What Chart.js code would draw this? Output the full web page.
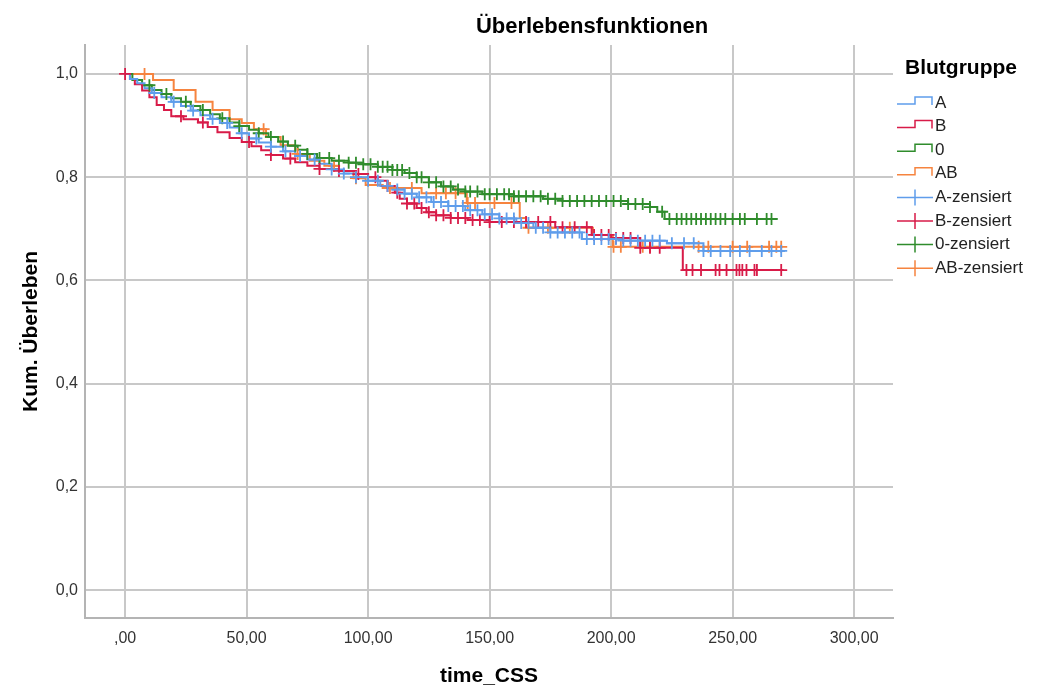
<!DOCTYPE html>
<html>
<head>
<meta charset="utf-8">
<script src="https://cdn.jsdelivr.net/npm/chart.js@4.4.1/dist/chart.umd.min.js"></script>
<style>
  html, body { margin: 0; padding: 0; background: #fff; }
  #wrap { width: 1037px; height: 689px; }
</style>
</head>
<body>
<div id="wrap"><canvas id="kmChart" width="1037" height="689"></canvas></div>
<script>
// Blood groups and their colours (SPSS default palette)
const groups = ['A', 'B', '0', 'AB'];
const colors = ['#5f9deb', '#d81b48', '#2f8c2c', '#f6843f'];

// Kaplan-Meier steps: time of event and survival after it
const timeA = [0, 2, 5, 8, 11, 15, 19, 23, 27, 31, 35, 39, 43, 47, 51, 55, 60, 65, 70, 75, 80, 85, 90, 95, 100, 105, 110, 115, 120, 126, 133, 140, 147, 154, 161, 168, 175, 188, 205, 223, 238, 271.5];
const survA = [1.0, 0.99, 0.982, 0.972, 0.963, 0.955, 0.946, 0.938, 0.929, 0.92, 0.913, 0.905, 0.896, 0.885, 0.875, 0.867, 0.859, 0.85, 0.841, 0.834, 0.826, 0.815, 0.807, 0.8, 0.793, 0.783, 0.776, 0.768, 0.761, 0.752, 0.744, 0.736, 0.728, 0.72, 0.711, 0.702, 0.693, 0.68, 0.677, 0.672, 0.657, 0.657];

const timeB = [0, 2, 4, 7, 10, 13, 16, 19, 24, 30, 34, 38, 43, 48, 52, 56, 60, 65, 70, 75, 80, 88, 95, 100, 104, 108, 111, 113, 116, 120, 124, 128, 134, 141, 150, 177, 192, 200, 212, 229.5, 271];
const survB = [1.0, 0.99, 0.98, 0.968, 0.955, 0.94, 0.93, 0.918, 0.912, 0.906, 0.897, 0.887, 0.876, 0.868, 0.86, 0.852, 0.843, 0.836, 0.829, 0.822, 0.816, 0.812, 0.806, 0.8, 0.793, 0.783, 0.77, 0.758, 0.749, 0.74, 0.732, 0.726, 0.721, 0.717, 0.713, 0.703, 0.688, 0.682, 0.663, 0.62, 0.62];

const time0 = [0, 3, 7, 11, 15, 19, 23, 27, 31, 35, 39, 43, 47, 51, 55, 59, 63, 67, 71, 75, 79, 85, 92, 98, 104, 110, 115, 120, 125, 130, 135, 140, 147, 160, 172, 180, 207, 216, 219, 222, 268.5];
const surv0 = [1.0, 0.988, 0.978, 0.969, 0.961, 0.953, 0.946, 0.938, 0.93, 0.922, 0.914, 0.906, 0.899, 0.892, 0.885, 0.878, 0.869, 0.861, 0.853, 0.845, 0.837, 0.832, 0.828, 0.825, 0.82, 0.814, 0.808, 0.8, 0.79, 0.782, 0.776, 0.772, 0.767, 0.763, 0.758, 0.754, 0.748, 0.742, 0.733, 0.719, 0.719];

const timeAB = [0, 11.5, 20, 29, 36, 43, 48, 53, 58, 64, 70, 76, 82, 88, 94, 99, 106, 122, 140.6, 162.4, 165, 192.5, 200.7, 270.5];
const survAB = [1.0, 0.988, 0.969, 0.946, 0.93, 0.912, 0.905, 0.893, 0.878, 0.862, 0.845, 0.832, 0.822, 0.812, 0.798, 0.785, 0.779, 0.769, 0.75, 0.721, 0.702, 0.688, 0.665, 0.665];

// censored observation times
const censA = [12, 20, 28, 36, 42, 48, 54, 60, 66, 72, 78, 85, 90, 95, 100, 104, 108, 112, 115, 118, 121, 124, 127, 130, 133, 136, 139, 142, 145, 148, 151, 154, 157, 160, 163, 166, 169, 172, 175, 178, 181, 184, 187, 190, 193, 196, 199, 202, 205, 208, 211, 214, 217, 220, 225, 230, 234, 238, 241, 245, 249, 253, 257, 262, 266, 270];
const censB = [0, 23, 32, 51, 60, 68, 80, 88, 96, 103, 108, 112, 116, 119, 122, 125, 128, 131, 134, 137, 140, 143, 146, 150, 155, 160, 165, 170, 175, 180, 185, 190, 193, 196, 199, 202, 205, 208, 212, 216, 220, 231, 233.5, 237, 243, 244.6, 247.5, 251.6, 252.8, 254, 255.7, 259, 260, 270];
const cens0 = [10, 17, 25, 32, 40, 47, 55, 60, 65, 70, 75, 80, 84, 88, 92, 95, 98, 101, 104, 106, 108, 110, 112, 114, 117, 120, 122, 125, 128, 131, 134, 137, 140, 142, 145, 148, 150, 153, 156, 158, 160, 162, 165, 168, 171, 174, 177, 180, 183, 186, 189, 192, 195, 198, 201, 204, 207, 210, 213, 216, 221, 224, 227, 229, 231, 233, 235, 237, 239, 241, 243, 245, 247, 250, 253, 255, 260, 264, 266];
const censAB = [8, 57, 71, 86, 95, 109, 118, 128, 132, 136, 141, 144, 152, 159, 166, 174, 183, 201, 204, 213, 216, 236, 240, 250, 256, 265, 268, 270];

const xTicks = [0, 50, 100, 150, 200, 250, 300];
const xTickLabels = [',00', '50,00', '100,00', '150,00', '200,00', '250,00', '300,00'];
const yTicks = [0, 0.2, 0.4, 0.6, 0.8, 1.0];
const yTickLabels = ['0,0', '0,2', '0,4', '0,6', '0,8', '1,0'];

const FONT = "'Liberation Sans', Arial, sans-serif";
Chart.defaults.font.family = FONT;

// survival value in force at time t (step function lookup)
function survAt(times, surv, t) {
    let v = surv[0];
    for (let i = 0; i < times.length; i++) {
        if (times[i] <= t) v = surv[i];
    }
    return v;
}

const curveTimes = [timeA, timeB, time0, timeAB];
const curveSurv = [survA, survB, surv0, survAB];
const censTimes = [censA, censB, cens0, censAB];

const datasets = [];
groups.forEach((g, k) => {
    datasets.push({
        label: g,
        data: curveTimes[k].map((t, i) => ({ x: t, y: curveSurv[k][i] })),
        showLine: true,
        stepped: 'before',
        borderColor: colors[k],
        borderWidth: 2,
        pointRadius: 0,
        order: 1
    });
});
groups.forEach((g, k) => {
    datasets.push({
        label: g + '-zensiert',
        data: censTimes[k].map(t => ({ x: t, y: survAt(curveTimes[k], curveSurv[k], t) })),
        showLine: false,
        pointStyle: 'cross',
        pointRadius: 6,
        borderColor: colors[k],
        borderWidth: 1.8,
        order: 0
    });
});

// title and legend drawn by hand, SPSS style
const kmDecor = {
    id: 'kmDecor',
    afterDraw(chart) {
        const ctx = chart.ctx;
        ctx.save();
        ctx.textBaseline = 'middle';
        ctx.fillStyle = '#000';
        ctx.textAlign = 'center';
        ctx.font = 'bold 22px ' + FONT;
        ctx.fillText('Überlebensfunktionen', 592, 27);

        ctx.textAlign = 'left';
        ctx.font = 'bold 21px ' + FONT;
        ctx.fillText('Blutgruppe', 905, 68);

        ctx.font = '17px ' + FONT;
        const labels = groups.concat(groups.map(g => g + '-zensiert'));
        labels.forEach((lab, i) => {
            const cy = 103 + i * 23.6;
            ctx.strokeStyle = colors[i % 4];
            ctx.lineWidth = 1.5;
            ctx.beginPath();
            if (i < 4) {
                ctx.moveTo(897, cy + 1);
                ctx.lineTo(915, cy + 1);
                ctx.lineTo(915, cy - 6);
                ctx.lineTo(932, cy - 6);
                ctx.lineTo(932, cy + 2);
            } else {
                ctx.moveTo(897, cy);
                ctx.lineTo(933, cy);
                ctx.moveTo(915, cy - 8);
                ctx.lineTo(915, cy + 8);
            }
            ctx.stroke();
            ctx.fillStyle = '#222';
            ctx.fillText(lab, 935, cy);
        });
        ctx.restore();
    }
};

new Chart(document.getElementById('kmChart'), {
    type: 'scatter',
    data: { datasets: datasets },
    options: {
        responsive: false,
        animation: false,
        events: [],
        layout: { padding: { top: 45, right: 144, left: 0, bottom: 0 } },
        plugins: {
            legend: { display: false },
            tooltip: { enabled: false },
            title: { display: false }
        },
        scales: {
            x: {
                type: 'linear',
                min: -16.5,
                max: 316,
                afterBuildTicks: s => { s.ticks = xTicks.map(v => ({ value: v })); },
                afterFit: s => { s.height = 71; },
                ticks: {
                    callback: v => xTickLabels[xTicks.indexOf(v)],
                    font: { size: 16 },
                    color: '#333',
                    padding: 11,
                    maxRotation: 0,
                    autoSkip: false
                },
                grid: { color: '#c8c8c8', lineWidth: 2, drawTicks: false },
                border: { color: '#b4b4b4', width: 2 },
                title: {
                    display: true,
                    text: 'time_CSS',
                    color: '#000',
                    font: { size: 21, weight: 'bold' },
                    padding: { top: 0, bottom: 0 }
                }
            },
            y: {
                type: 'linear',
                min: -0.054,
                max: 1.056,
                afterBuildTicks: s => { s.ticks = yTicks.map(v => ({ value: v })); },
                afterFit: s => { s.width = 85; },
                ticks: {
                    callback: v => yTickLabels[yTicks.findIndex(t => Math.abs(t - v) < 1e-6)],
                    font: { size: 16 },
                    color: '#333',
                    padding: 7
                },
                grid: { color: '#c8c8c8', lineWidth: 2, drawTicks: false },
                border: { color: '#b4b4b4', width: 2 },
                title: {
                    display: true,
                    text: 'Kum. Überleben',
                    color: '#000',
                    font: { size: 21, weight: 'bold' },
                    padding: { top: 19, bottom: 0 }
                }
            }
        }
    },
    plugins: [kmDecor]
});
</script>
</body>
</html>
